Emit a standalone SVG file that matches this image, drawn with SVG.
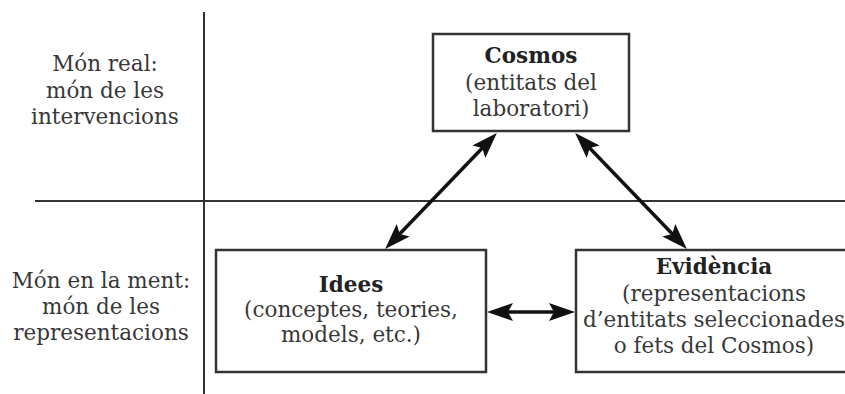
<svg xmlns="http://www.w3.org/2000/svg" width="845" height="394" viewBox="0 0 845 394">
  <style>
    .box { fill: #fff; stroke: #333; stroke-width: 2.5; }
    .rule { stroke: #333; stroke-width: 2; fill: none; }
    .link { stroke: #111; stroke-width: 3.5; fill: none; marker-start: url(#head); marker-end: url(#head); }
    text { font-family: "DejaVu Serif", "Liberation Serif", serif; font-size: 21.5px; fill: #383838; text-anchor: middle; }
    .title { font-weight: bold; fill: #222; }
  </style>
  <defs>
    <marker id="head" viewBox="0 0 26 18" refX="19" refY="9" markerWidth="26" markerHeight="18" markerUnits="userSpaceOnUse" orient="auto-start-reverse">
      <path d="M0,0 L26,9 L0,18 L5,9 z" fill="#111"/>
    </marker>
  </defs>

  <rect width="845" height="394" fill="#fff"/>

  <!-- quadrant rules -->
  <g id="rules">
    <line class="rule" x1="204" y1="12" x2="204" y2="394"/>
    <line class="rule" x1="35" y1="201" x2="845" y2="201"/>
  </g>

  <!-- row labels -->
  <g id="label-real">
    <text x="105" y="71">Món real:</text>
    <text x="105" y="98">món de les</text>
    <text x="105" y="124">intervencions</text>
  </g>
  <g id="label-ment">
    <text x="101" y="288">Món en la ment:</text>
    <text x="101" y="314">món de les</text>
    <text x="101" y="340">representacions</text>
  </g>

  <!-- connectors -->
  <g id="connectors">
    <line class="link" x1="390" y1="244" x2="492" y2="138"/>
    <line class="link" x1="580" y1="138" x2="682" y2="244"/>
    <line class="link" x1="494" y1="312" x2="568" y2="312"/>
  </g>

  <!-- nodes -->
  <g id="cosmos">
    <rect class="box" x="433" y="34" width="196" height="97"/>
    <text class="title" x="531" y="63">Cosmos</text>
    <text x="531" y="90">(entitats del</text>
    <text x="531" y="116">laboratori)</text>
  </g>
  <g id="idees">
    <rect class="box" x="216" y="250" width="270" height="122"/>
    <text class="title" x="351" y="292">Idees</text>
    <text x="351" y="317">(conceptes, teories,</text>
    <text x="351" y="342">models, etc.)</text>
  </g>
  <g id="evidencia">
    <rect class="box" x="576" y="250" width="276" height="122"/>
    <text class="title" x="714" y="274">Evidència</text>
    <text x="714" y="301">(representacions</text>
    <text x="714" y="327">d’entitats seleccionades</text>
    <text x="714" y="353">o fets del Cosmos)</text>
  </g>
</svg>
